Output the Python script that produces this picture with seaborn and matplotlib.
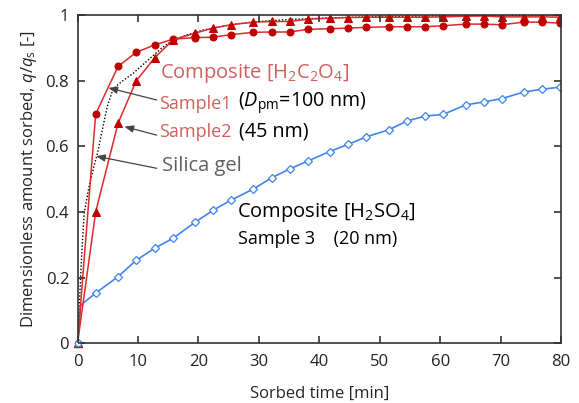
import numpy as np
import pandas as pd
import matplotlib
matplotlib.use("Agg")
import matplotlib.pyplot as plt
import seaborn as sns

# ---------------- data ----------------
t_common = [0, 3.0, 6.7, 9.7, 12.8, 15.8, 19.4, 22.4, 25.4, 29.1, 32.1, 35.1, 38.1,
            41.7, 44.8, 47.8, 51.5, 54.5, 57.5, 60.5, 64.2, 67.2, 70.2, 73.8, 76.9, 79.9]
sample1 = [0, 0.698, 0.843, 0.886, 0.909, 0.926, 0.931, 0.932, 0.940, 0.947, 0.948, 0.948,
           0.956, 0.958, 0.960, 0.962, 0.964, 0.964, 0.964, 0.967, 0.972, 0.972, 0.970,
           0.978, 0.978, 0.975]
sample2 = [0, 0.40, 0.67, 0.799, 0.870, 0.924, 0.944, 0.960, 0.970, 0.978, 0.980, 0.980,
           0.987, 0.990, 0.992, 0.993, 0.993, 0.993, 0.993, 0.994, 0.996, 0.997, 0.994,
           0.994, 0.994, 0.993]
t_sample3 = [0, 0.5] + t_common[1:]
sample3 = [0, 0.116, 0.153, 0.203, 0.253, 0.290, 0.320, 0.368, 0.405, 0.436, 0.470,
           0.504, 0.531, 0.555, 0.584, 0.606, 0.629, 0.650, 0.677, 0.692, 0.697,
           0.726, 0.735, 0.745, 0.765, 0.774, 0.780]
t_silica = [0, 0.7, 1.1, 1.9, 2.7, 3.3, 4.1, 4.9, 5.9, 7.3, 9.2, 12.0, 14.2, 15.9, 18.1,
            20.8, 22.5, 26, 30, 35, 40, 50, 60, 70, 80]
silica = [0, 0.275, 0.396, 0.477, 0.538, 0.579, 0.65, 0.72, 0.775, 0.797, 0.822, 0.868,
          0.903, 0.924, 0.939, 0.954, 0.96, 0.972, 0.98, 0.986, 0.99, 0.995, 0.997,
          0.998, 0.998]

x_ticks = [0, 10, 20, 30, 40, 50, 60, 70, 80]
y_ticks = [0, 0.2, 0.4, 0.6, 0.8, 1.0]
y_ticklabels = ["0", "0.2", "0.4", "0.6", "0.8", "1"]

# ---------------- style ----------------
sns.set_theme(style="ticks")
plt.rcParams['font.family'] = ['Open Sans', 'DejaVu Sans']
plt.rcParams['mathtext.fontset'] = 'custom'
plt.rcParams['mathtext.rm'] = 'Open Sans'
plt.rcParams['mathtext.it'] = 'Open Sans:italic'
plt.rcParams.update({'xtick.direction': 'in', 'ytick.direction': 'in',
                     'xtick.top': True, 'ytick.right': True,
                     'xtick.major.size': 5, 'ytick.major.size': 5,
                     'xtick.major.width': 1.2, 'ytick.major.width': 1.2,
                     'axes.axisbelow': False})

RED = '#c00000'
RED_LINE = '#dd2a2a'
LRED = '#d0605e'
BLUE = '#4285f0'
GRAY = '#606060'
TICK = '#333333'

fig = plt.figure(figsize=(5.79, 4.03), dpi=100)
ax = fig.add_axes([0.1339, 0.148, 0.969 - 0.1339, 0.963 - 0.148])

df1 = pd.DataFrame({'t': t_common, 'q': sample1})
df2 = pd.DataFrame({'t': t_common, 'q': sample2})
df3 = pd.DataFrame({'t': t_sample3, 'q': sample3})
dfs = pd.DataFrame({'t': t_silica, 'q': silica})

sns.lineplot(data=dfs, x='t', y='q', ax=ax, color='black', lw=1.0,
             linestyle=(0, (1, 1.4)), sort=False, estimator=None)
sns.lineplot(data=df3, x='t', y='q', ax=ax, color=BLUE, lw=1.2, sort=False,
             estimator=None)
sns.lineplot(data=df3.iloc[2:], x='t', y='q', ax=ax, color=BLUE, lw=0,
             marker='D', markersize=3.8, markerfacecolor='white',
             markeredgecolor=BLUE, markeredgewidth=0.9, sort=False, estimator=None)
sns.lineplot(data=df1, x='t', y='q', ax=ax, color=RED_LINE, lw=1.1, sort=False,
             estimator=None)
sns.lineplot(data=df1.iloc[1:], x='t', y='q', ax=ax, color=RED, lw=0,
             marker='o', markersize=5, markeredgecolor=RED, sort=False, estimator=None)
sns.lineplot(data=df2, x='t', y='q', ax=ax, color=RED_LINE, lw=1.1, sort=False,
             estimator=None)
sns.lineplot(data=df2.iloc[1:], x='t', y='q', ax=ax, color=RED, lw=0,
             marker='^', markersize=5.5, markeredgecolor=RED, sort=False, estimator=None)
# origin markers (open)
ax.plot(df2['t'].iloc[:1], df2['q'].iloc[:1], marker='^', ms=6, mfc='white',
        mec=RED, mew=1.0, ls='none', clip_on=False, zorder=5)
ax.plot(df3['t'].iloc[:1], df3['q'].iloc[:1], marker='o', ms=4.5, mfc='white',
        mec=BLUE, mew=1.0, ls='none', clip_on=False, zorder=6)

ax.set_xlim(0, 80)
ax.set_ylim(0, 1)
ax.set_xticks(x_ticks)
ax.set_yticks(y_ticks)
ax.set_yticklabels(y_ticklabels)
for s in ax.spines.values():
    s.set_visible(True)
    s.set_color(TICK)
    s.set_linewidth(1.2)

ax.set_xlabel('Sorbed time [min]', fontsize=12, labelpad=11)
ax.set_ylabel(r'Dimensionless amount sorbed, $q$/$q_{\mathrm{s}}$ [-]',
              fontsize=12, labelpad=5)

# annotations
ax.text(13.6, 0.823, r'Composite [H$_2$C$_2$O$_4$]', color=LRED, fontsize=14.5,
        va='center', ha='left')
ax.text(13.5, 0.730, 'Sample1', color=LRED, fontsize=13, va='center', ha='left')
ax.text(26.6, 0.730, r'($D_{\mathrm{pm}}$=100 nm)', color='black', fontsize=14.2,
        va='center', ha='left')
ax.text(13.5, 0.644, 'Sample2', color=LRED, fontsize=13, va='center', ha='left')
ax.text(26.7, 0.644, '(45 nm)', color='black', fontsize=14.2, va='center', ha='left')
ax.text(14.0, 0.54, 'Silica gel', color=GRAY, fontsize=14.5, va='center', ha='left')
ax.text(26.4, 0.397, r'Composite [H$_2$SO$_4$]', color='black', fontsize=14.5,
        va='center', ha='left')
ax.text(26.6, 0.318, 'Sample 3    (20 nm)', color='black', fontsize=13,
        va='center', ha='left')

arrow_kw = dict(arrowstyle='-|>,head_length=0.45,head_width=0.18', color='#444444',
                lw=0.9, shrinkA=0, shrinkB=0)
ax.annotate('', xy=(5.1, 0.778), xytext=(13.1, 0.741), arrowprops=arrow_kw)
ax.annotate('', xy=(7.75, 0.66), xytext=(13.1, 0.634), arrowprops=arrow_kw)
ax.annotate('', xy=(3.06, 0.57), xytext=(13.1, 0.533), arrowprops=arrow_kw)

# ticks applied last, then forced on every tick after a draw
ax.set_axisbelow(False)
ax.xaxis.set_zorder(10)
ax.yaxis.set_zorder(10)
ax.tick_params(direction='in', length=5, width=1.2, color=TICK,
               bottom=True, top=True, left=True, right=True,
               labelsize=12, labelcolor='#222222')
ax.tick_params(axis='x', pad=8)
ax.tick_params(axis='y', pad=6)
fig.canvas.draw()
for axis in (ax.xaxis, ax.yaxis):
    for tk in axis.get_major_ticks():
        tk.set_visible(True)
        for ln in (tk.tick1line, tk.tick2line):
            ln.set_visible(True)
            ln.set_markersize(5)
            ln.set_markeredgewidth(1.2)
            ln.set_color(TICK)
            ln.set_markeredgecolor(TICK)
            ln.set_zorder(10)

fig.savefig('out.png', dpi=100)
